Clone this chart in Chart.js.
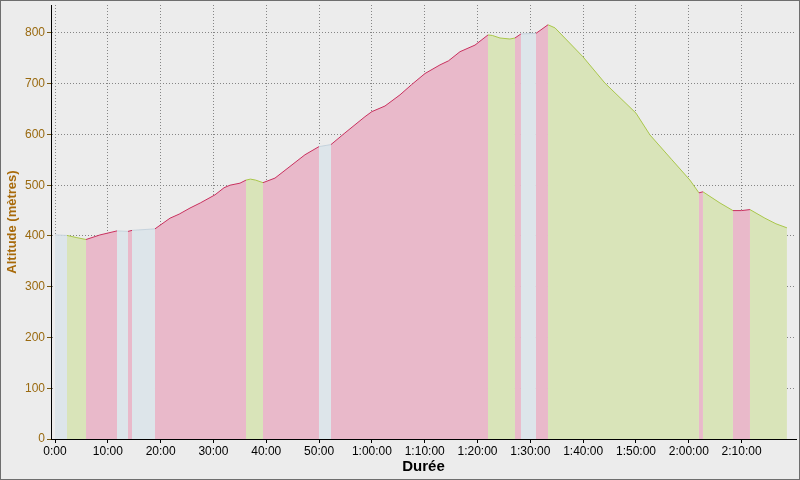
<!DOCTYPE html>
<html>
<head>
<meta charset="utf-8">
<script src="https://cdn.jsdelivr.net/npm/chart.js@4"></script>
<style>
  body { margin: 0; background: #ececec; }
  #wrap { width: 800px; height: 480px; box-sizing: border-box; border: 1px solid #6e6e6e; background: #ececec; }
  canvas { display: block; }
</style>
</head>
<body>
<div id="wrap"><canvas id="myChart" width="798" height="478"></canvas></div>
<script>
// Durée en minutes, altitude en mètres
const minutes = [0, 2.27, 4, 5.87, 8.5, 11.74, 13.82, 14.58, 18.93, 21.77, 23.5, 25.56, 27.5, 30.29, 32, 33.13, 35.02, 36.16,
  37, 38, 39.38, 41.65, 44.49, 47.33, 49.98, 52.25, 54.9, 58.69, 60, 62.48, 65.32, 67.5, 70.05, 72.89, 74.5, 76.68, 79.52, 81.98,
  82.8, 84.25, 86.14, 87.09, 88.22, 91.06, 93.34, 94.66, 99.96, 104.13, 110, 112.65, 116.81, 120.22, 121.92, 122.68,
  125.9, 128.36, 130, 131.58, 134.42, 136.5, 138.58];
const altitudes = [402, 401, 397, 393, 402, 410, 409, 411, 414, 435, 443, 455, 465, 481, 495, 500, 504, 510,
  512, 510, 505, 514, 537, 560, 576, 580, 603, 635, 645, 656, 678, 698, 720, 737, 745, 763, 776, 796,
  795, 790, 788, 790, 798, 799, 816, 810, 753, 701, 642, 599, 550, 510, 485, 487,
  465, 450, 450, 452, 435, 424, 416];
// type of each stretch between two points: m = montée, d = descente, p = plat
const stretches = 'pddmmpmp' + 'mmmmmmmmm' + 'ddd' + 'mmmm' + 'p' + 'mmmmmmmmmmmm' + 'dddd' + 'mpm' +
  'dddddddd' + 'm' + 'dd' + 'mm' + 'ddd';

const xTicks = [0, 10, 20, 30, 40, 50, 60, 70, 80, 90, 100, 110, 120, 130];
const yTicks = [0, 100, 200, 300, 400, 500, 600, 700, 800];

const fillColors = { m: '#e9b9ca', d: '#d9e4b9', p: '#dde5ea' };
const lineColors = { m: '#c8305e', d: '#a9c64a', p: '#c5d2dc' };

function formatDuration(v) {
  const h = Math.floor(v / 60);
  const m = Math.round(v % 60);
  const mm = m < 10 ? '0' + m : '' + m;
  return h > 0 ? h + ':' + mm + ':00' : m + ':00';
}

const points = minutes.map((t, i) => ({ x: t, y: altitudes[i] }));

new Chart(document.getElementById('myChart').getContext('2d'), {
  type: 'line',
  data: {
    datasets: [{
      data: points,
      fill: 'origin',
      borderWidth: 1,
      pointRadius: 0,
      tension: 0,
      segment: {
        borderColor: ctx => lineColors[stretches[ctx.p0DataIndex]],
        backgroundColor: ctx => fillColors[stretches[ctx.p0DataIndex]]
      }
    }]
  },
  options: {
    responsive: false,
    animation: false,
    layout: { padding: { left: 4, right: 3, top: 4, bottom: 0 } },
    plugins: { legend: { display: false }, tooltip: { enabled: false } },
    scales: {
      x: {
        type: 'linear',
        min: -0.76,
        max: 140.3,
        z: 1,
        afterBuildTicks: s => { s.ticks = xTicks.map(v => ({ value: v })); },
        afterFit: s => { s.height = 40; s.paddingLeft = 0; s.paddingRight = 0; },
        border: { color: '#000', width: 1, dash: [1, 2] },
        grid: { color: '#858585', lineWidth: 1, tickLength: 4, tickColor: '#000', tickBorderDash: [] },
        ticks: {
          color: '#000',
          padding: 1,
          maxRotation: 0,
          autoSkip: false,
          font: { family: 'Liberation Sans', size: 12 },
          callback: v => formatDuration(v)
        },
        title: {
          display: true,
          text: 'Durée',
          color: '#000',
          padding: { top: 0, bottom: 3 },
          font: { family: 'Liberation Sans', size: 15, weight: 'bold' }
        }
      },
      y: {
        min: 0,
        max: 855,
        z: 1,
        afterBuildTicks: s => { s.ticks = yTicks.map(v => ({ value: v })); },
        afterFit: s => { s.width = 46; s.paddingTop = 0; s.paddingBottom = 0; },
        border: { color: '#000', width: 1, dash: [1, 2] },
        grid: { color: '#858585', lineWidth: 1, tickLength: 4, tickColor: '#7a5a10', tickBorderDash: [] },
        ticks: {
          color: '#9a6a10',
          padding: 2,
          font: { family: 'Liberation Sans', size: 12 }
        },
        title: {
          display: true,
          text: 'Altitude (mètres)',
          color: '#a86a0a',
          padding: { top: 0, bottom: 4 },
          font: { family: 'Liberation Sans', size: 13, weight: 'bold' }
        }
      }
    }
  }
});
</script>
</body>
</html>
